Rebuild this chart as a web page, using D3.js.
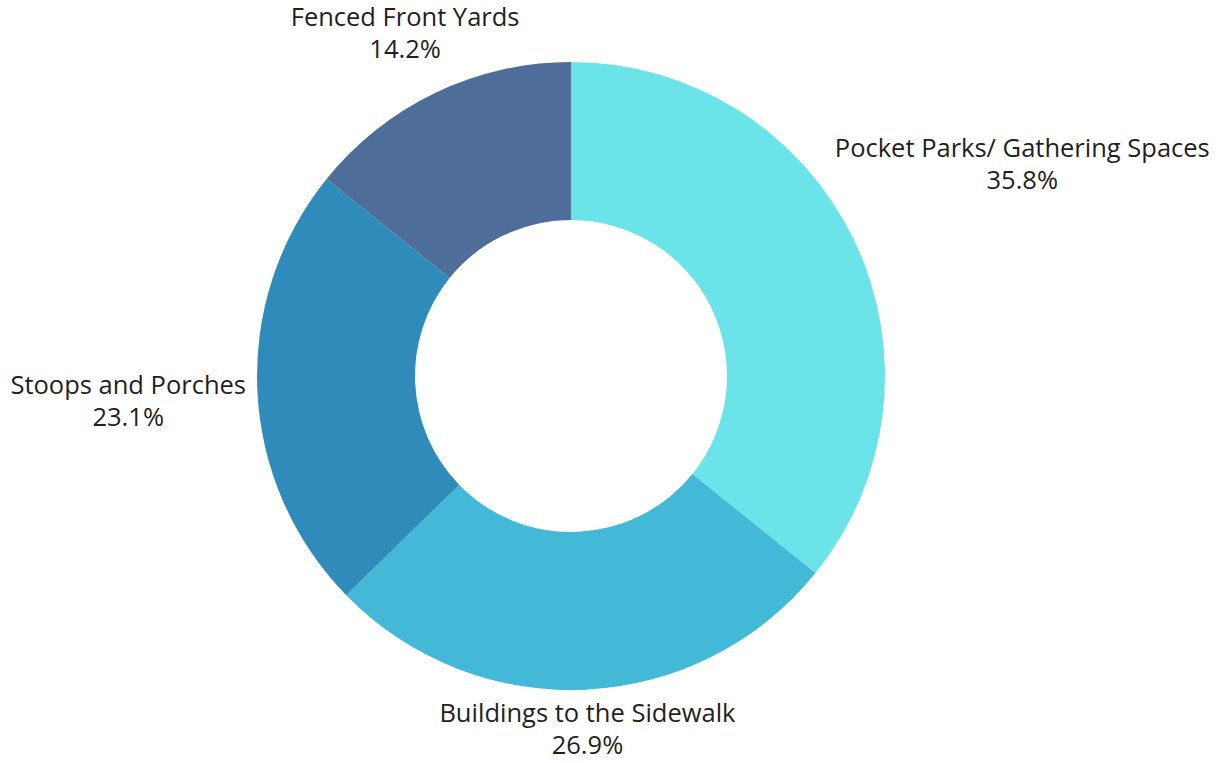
<!DOCTYPE html>
<html>
<head>
<meta charset="utf-8">
<script src="https://cdn.jsdelivr.net/npm/d3@7"></script>
<style>
  body { margin: 0; background: #fff; }
  text { font-family: "Open Sans", sans-serif; fill: #1f1f1f; }
</style>
</head>
<body>
<div id="chart"></div>
<script>
var categories = ["Pocket Parks/ Gathering Spaces", "Buildings to the Sidewalk", "Stoops and Porches", "Fenced Front Yards"];
var values = [35.8, 26.9, 23.1, 14.2];
var colors = ["#6be4e9", "#44b8d7", "#2e8bba", "#4f6d99"];

var w = 1224;
var h = 763;
var cx = 571, cy = 376;
var outerR = 314, innerR = 156;
var labelR = 325;

var svg = d3.select("#chart")
            .append("svg")
            .attr("width", w)
            .attr("height", h);

var pie = d3.pie().sort(null).value(function(d) { return d; });
var arc = d3.arc().innerRadius(innerR).outerRadius(outerR);
var arcs = pie(values);

var g = svg.append("g").attr("transform", "translate(" + cx + "," + cy + ")");

g.selectAll("path")
 .data(arcs)
 .enter()
 .append("path")
 .attr("d", arc)
 .attr("fill", function(d, i) { return colors[i]; });

// labels: one text, two lines
var labels = g.selectAll("text.lbl")
  .data(arcs)
  .enter()
  .append("text")
  .attr("class", "lbl")
  .attr("text-anchor", "middle")
  .attr("font-size", 25.5);

labels.append("tspan")
  .attr("x", 0)
  .attr("y", -6)
  .text(function(d, i) { return categories[i]; });

labels.append("tspan")
  .attr("x", 0)
  .attr("y", 26)
  .text(function(d) { return d.value.toFixed(1) + "%"; });

function boxDist(b, ox, oy) {
  var x0 = b.x + ox, x1 = b.x + b.width + ox;
  var y0 = b.y + oy, y1 = b.y + b.height + oy;
  var nx = Math.max(x0, Math.min(0, x1));
  var ny = Math.max(y0, Math.min(0, y1));
  return Math.sqrt(nx * nx + ny * ny);
}

// push each label out along its mid angle until the box clears labelR
labels.each(function(d) {
  var bb = this.getBBox();
  var b = {x: bb.x, width: bb.width, y: -24, height: 50};
  var a = (d.startAngle + d.endAngle) / 2;
  var ux = Math.sin(a), uy = -Math.cos(a);
  var lo = 0, hi = 1000;
  for (var k = 0; k < 50; k++) {
    var mid = (lo + hi) / 2;
    if (boxDist(b, ux * mid, uy * mid) < labelR) lo = mid; else hi = mid;
  }
  d3.select(this).attr("transform", "translate(" + (ux * hi) + "," + (uy * hi + 3) + ")");
});
</script>
</body>
</html>
